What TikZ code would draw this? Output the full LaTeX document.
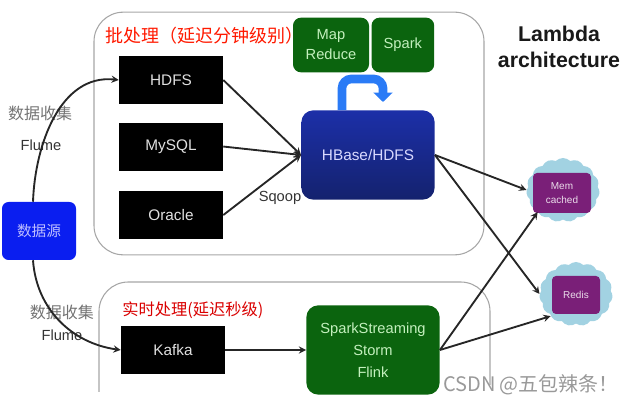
\documentclass[tikz,border=0pt]{standalone}
\usepackage{fontspec}
\setmainfont{Liberation Sans}
\newfontfamily\cjk{Noto Sans CJK SC}
\usetikzlibrary{positioning}
\usetikzlibrary{calc}
\usetikzlibrary{arrows.meta}
\usetikzlibrary{shapes.symbols}
\definecolor{srcblue}{HTML}{0A1EF0}
\definecolor{grn}{HTML}{0B640E}
\definecolor{grntext}{HTML}{C4F0BE}
\definecolor{hbtop}{HTML}{1C2FA8}
\definecolor{hbbot}{HTML}{14226E}
\definecolor{hook}{HTML}{2A7BF6}
\definecolor{cloudblue}{HTML}{A2D2E2}
\definecolor{purp}{HTML}{7A1F78}
\tikzstyle{panel} = [draw=black!35, line width=0.8pt, rounded corners=22pt]
\tikzstyle{store} = [fill=black, text=white!88!black, minimum height=36pt, minimum width=78pt, inner sep=0pt, font=\fontsize{11.5}{14}\selectfont]
\tikzstyle{engine} = [fill=grn, text=grntext, rounded corners=6pt, inner sep=0pt, align=center, font=\fontsize{11}{15}\selectfont]
\tikzstyle{vapour} = [cloud, cloud puffs=15, cloud puff arc=90, aspect=1.1, fill=cloudblue, inner sep=0pt]
\tikzstyle{cache} = [fill=purp, text=white!85!purp, rounded corners=3pt, inner sep=0pt, align=center, font=\fontsize{7.5}{10}\selectfont]
\tikzstyle{note} = [text=black!55, font=\cjk\fontsize{12}{14}\selectfont]
\tikzstyle{tool} = [text=black!80, font=\fontsize{11}{14}\selectfont]
\tikzstyle{flow} = [->, line width=1.4pt, black!85]

\begin{document}
\begin{tikzpicture}[x=0.75pt,y=-0.75pt,>=stealth]
    \useasboundingbox (0,0) rectangle (626,402);
    \node [panel, minimum width=292.5pt, minimum height=182pt] (batch) at (289,133.5) {};
    \draw [panel] (99,392) -- (99,282) -- (490,282) -- (490,385); % open at the bottom

    \node [text=red!80!orange, anchor=west, inner sep=0pt, font=\cjk\fontsize{13.5}{15}\selectfont] (batchlabel) at (105,36) {批处理（延迟分钟级别）};
    \node [text=red!85!black, anchor=west, inner sep=0pt, font=\cjk\fontsize{12.2}{14}\selectfont] (streamlabel) at (122,310) {实时处理(延迟秒级)};
    \node [note] (collect) at (40,113) {数据收集};
    \node [tool] (flume) at (41,145) {Flume};
    \node [note] (collect1) at (62,312) {数据收集};
    \node [tool] (flume1) at (62,335) {Flume};
    \node [tool] (sqoop) at (280,198) {Sqoop};

    \node [store] (hdfs) at (171,80) {HDFS};
    \node [store, below = 13.5pt of hdfs] (mysql) {MySQL};
    \node [store, below = 15pt of mysql] (oracle) {Oracle};
    \node [store] (kafka) at (173,350) {Kafka};

    \node [engine, minimum width=57pt, minimum height=41pt] (mapreduce) at (331,45) {Map\\Reduce};
    \node [engine, minimum width=47pt, minimum height=41pt, right = 1.5pt of mapreduce] (spark) {Spark};
    \node [minimum width=100pt, minimum height=67pt, rounded corners=9pt, top color=hbtop, bottom color=hbbot, text=white!85!blue, inner sep=0pt, font=\fontsize{11.5}{14}\selectfont] (hbase) at (368,155) {HBase/HDFS};
    \node [engine, minimum width=100pt, minimum height=67pt, rounded corners=9pt, font=\fontsize{11}{16.5}\selectfont] (streaming) at (373,350) {SparkStreaming\\Storm\\Flink};
    \node [fill=srcblue, text=white!75!blue, rounded corners=5pt, minimum width=55.5pt, minimum height=43.5pt, inner sep=0pt, font=\cjk\fontsize{11}{13}\selectfont] (source) at (39,231) {数据源};

    \node [vapour, minimum width=55pt, minimum height=48pt] (memcloud) at (563,190) {};
    \node [cache, minimum width=43.5pt, minimum height=30pt] (mem) at (562,193) {Mem\\cached};
    \node [vapour, minimum width=55pt, minimum height=48pt] (rediscloud) at (576,294) {};
    \node [cache, minimum width=36pt, minimum height=28.5pt] (redis) at (576,295) {Redis};

    \node [font=\bfseries\fontsize{16}{19}\selectfont, align=center, text=black!90] (title) at (559,47) {Lambda\\architecture};
    \node [text=black!40, inner sep=0pt, font=\cjk\fontsize{15}{17}\selectfont] (mark) at (531,385) {CSDN @五包辣条！};

    \draw [flow] ([xshift=-4.5pt]source.north) to[out=88,in=174] (hdfs.west); % collection curves
    \draw [flow] ([xshift=-4.5pt]source.south) to[out=-86,in=172] (kafka.west);
    \draw [flow] (hdfs.east) -- (hbase.west);
    \draw [flow] (mysql.east) -- (hbase.west);
    \draw [flow] (oracle.east) -- (hbase.west);
    \draw [flow] (kafka.east) -- (streaming.west);
    \draw [flow] (hbase.east) -- (memcloud.west);
    \draw [flow] (hbase.east) -- (rediscloud.west);
    \draw [flow] (streaming.east) -- (memcloud.south west);
    \draw [flow] (streaming.east) -- (rediscloud.south west);

    \coordinate (turn) at (383,79);
    \coordinate (tip) at (383,102);
    \draw [hook, line width=6.5pt, rounded corners=7pt, -{Triangle[length=7pt,width=14pt]}] ([xshift=-19.5pt]hbase.north) |- (turn) -- (tip);
\end{tikzpicture}
\end{document}
